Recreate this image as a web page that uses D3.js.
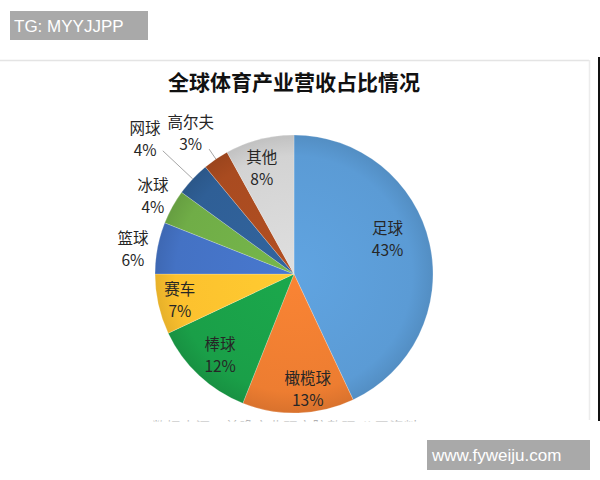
<!DOCTYPE html>
<html><head><meta charset="utf-8">
<script src="https://cdn.jsdelivr.net/npm/d3@7"></script>
<style>html,body{margin:0;padding:0;background:#fff;}svg{display:block;}</style>
</head><body>
<svg id="c" width="600" height="480"></svg>
<script>
const categories = ["足球","橄榄球","棒球","赛车","篮球","冰球","网球","高尔夫","其他"];
const values = [43,13,12,7,6,4,4,3,8];
const pctLabels = ["43%","13%","12%","7%","6%","4%","4%","3%","8%"];
const colors = ["#5b9bd5","#ed7d31","#1a9f48","#fcc12e","#4472c4","#70ad47","#2f5f96","#a94b20","#d3d3d3"];
const labelRadius = [100,116,110,117,163,161,201,175,111];
const labelShift = [-8,-5,-1,0,-2,0,-1,-2,-2.5];
const leader = {6:[180,139],7:[151,139]};
const title = "全球体育产业营收占比情况";

const svg = d3.select("#c");
const font = "'Noto Sans CJK SC','Microsoft YaHei',sans-serif";

// card background
svg.append("line").attr("x1",0).attr("x2",589).attr("y1",60.5).attr("y2",60.5).attr("stroke","#e4e4e4").attr("stroke-width",1.5);
svg.append("line").attr("x1",589.5).attr("x2",589.5).attr("y1",60).attr("y2",420).attr("stroke","#ececec").attr("stroke-width",1.5);
svg.append("line").attr("x1",599).attr("x2",599).attr("y1",57).attr("y2",421).attr("stroke","#111").attr("stroke-width",2);

// title
svg.append("text").attr("x",294).attr("y",90).attr("text-anchor","middle")
  .attr("font-family",font).attr("font-weight","bold").attr("font-size",21).attr("fill","#111").text(title);

const cx = 294, cy = 274, R = 139;
const g = svg.append("g").attr("transform",`translate(${cx},${cy})`);
const pie = d3.pie().sort(null).value(d=>d)(values);
const arc = d3.arc().innerRadius(0).outerRadius(R);

const defs = svg.append("defs");
colors.forEach((c,i)=>{
  const gr = defs.append("radialGradient").attr("id","g"+i).attr("gradientUnits","userSpaceOnUse")
    .attr("cx",0).attr("cy",0).attr("r",R);
  gr.append("stop").attr("offset","0%").attr("stop-color",d3.color(c).brighter(0.15));
  gr.append("stop").attr("offset","85%").attr("stop-color",c);
  gr.append("stop").attr("offset","100%").attr("stop-color",d3.color(c).darker(0.25));
});

g.selectAll("path.s").data(pie).join("path").attr("class","s")
  .attr("d",arc).attr("fill",(d,i)=>`url(#g${i})`)
  .attr("stroke","rgba(255,255,255,0.35)").attr("stroke-width",0.6);

const at = (a,r)=>d3.arc().innerRadius(r).outerRadius(r).centroid({startAngle:a,endAngle:a});

// leader lines
Object.entries(leader).forEach(([i,[r0,r1]])=>{
  const d = pie[+i];
  const a = (d.startAngle+d.endAngle)/2;
  const p0 = at(a,r0), p1 = at(a,r1);
  g.append("line").attr("x1",p0[0]).attr("y1",p0[1]).attr("x2",p1[0]).attr("y2",p1[1])
    .attr("stroke","#a6a6a6").attr("stroke-width",1);
});

// labels
pie.forEach((d,i)=>{
  const a = (d.startAngle+d.endAngle)/2 + labelShift[i]*Math.PI/180;
  const p = at(a,labelRadius[i]);
  const t = g.append("text").attr("text-anchor","middle").attr("font-family",font)
    .attr("font-size",15.5).attr("fill","#262626");
  t.append("tspan").attr("x",p[0]).attr("y",p[1]-5).text(categories[i]);
  t.append("tspan").attr("x",p[0]).attr("y",p[1]+17).text(pctLabels[i]);
});

// cut-off source text at bottom
defs.append("clipPath").attr("id","cut").append("rect").attr("x",0).attr("y",419).attr("width",600).attr("height",2.5);
svg.append("text").attr("clip-path","url(#cut)").attr("x",152).attr("y",432)
  .attr("font-family",font).attr("font-size",14).attr("fill","#b0b0b0")
  .attr("textLength",266).text("数据来源：前瞻产业研究院整理 公开资料");

// watermarks
svg.append("rect").attr("x",10).attr("y",11).attr("width",138).attr("height",29).attr("fill","#a9a9a9");
svg.append("text").attr("x",14).attr("y",32).attr("font-family","'Liberation Sans',Arial,sans-serif")
  .attr("font-size",17).attr("fill","#fff").text("TG: MYYJJPP");
svg.append("rect").attr("x",427).attr("y",440).attr("width",163).attr("height",30).attr("fill","#a9a9a9");
svg.append("text").attr("x",432).attr("y",461).attr("font-family","'Liberation Sans',Arial,sans-serif")
  .attr("font-size",17).attr("fill","#fff").text("www.fyweiju.com");
</script>
</body></html>
